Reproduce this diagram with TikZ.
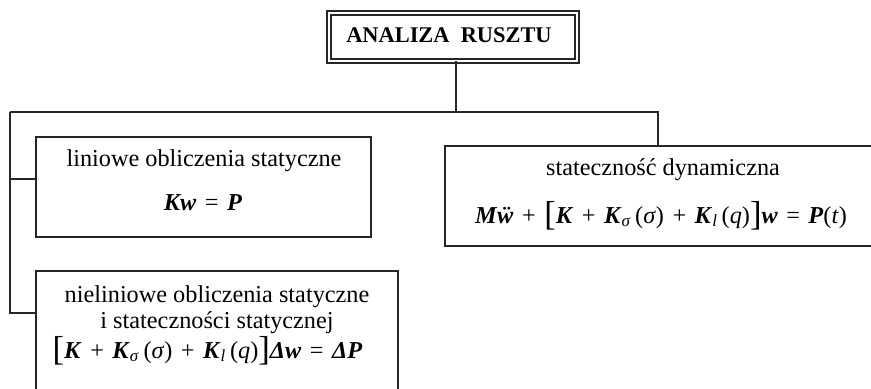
\documentclass[tikz,border=0pt]{standalone}
\usepackage{fontspec}
\setmainfont{Liberation Serif}
\newcommand{\vb}[1]{\textbf{\textit{#1}}}
\newcommand{\bigbr}[1]{\raisebox{-0.12em}{\fontsize{26}{26}\selectfont #1}}
\newcommand{\op}[1]{\hspace{0.35em}#1\hspace{0.35em}}
\tikzset{
    BOX/.style={draw=black!85, shape=rectangle, line width=1.4pt,
        inner sep=0pt, outer sep=0pt},
    TITLE_BOX/.style={BOX, double=white, double distance=1.6pt, line width=1.2pt},
    TEXT/.style={inner sep=0pt, anchor=base, font=\fontsize{18.2}{21}\selectfont},
    TITLE_TEXT/.style={TEXT, font=\fontsize{16.8}{20}\selectfont\bfseries},
    EDGE/.style={draw=black!85, line width=1.4pt}
}
\begin{document}
\begin{tikzpicture}[x=0.75pt, y=-0.75pt]
    \clip (0,0) rectangle (871,389);
    \useasboundingbox (0,0) rectangle (871,389);
    % boxes
    \node [TITLE_BOX, minimum width=186pt, minimum height=36pt] (1) at (453,37) {};
    \node [BOX, minimum width=251pt, minimum height=75pt] (2) at (203.5,187) {};
    \node [BOX, minimum width=327pt, minimum height=75pt] (3) at (663,196) {};
    \node [BOX, minimum width=271.5pt, minimum height=112pt] (4) at (217,345.5) {};
    % texts
    \node [TITLE_TEXT] (5) at (449,42) {ANALIZA\ \ RUSZTU};
    \node [TEXT] (6) at (204,166) {liniowe obliczenia statyczne};
    \node [TEXT] (7) at (203,210) {\vb{Kw}\op{=}\vb{P}};
    \node [TEXT] (8) at (663,175) {stateczność dynamiczna};
    \node [TEXT] (9) at (661,223) {\vb{M}\vb{\"w}\op{+}\bigbr{[}\vb{K}\op{+}\vb{K}\textsubscript{\textit{σ}}\,(\textit{σ})\op{+}\vb{K}\textsubscript{\textit{l}}\,(\textit{q})\bigbr{]}\vb{w}\op{=}\vb{P}(\textit{t})};
    \node [TEXT] (10) at (217,302) {nieliniowe obliczenia statyczne};
    \node [TEXT] (11) at (217,328) {i stateczności statycznej};
    \node [TEXT] (12) at (207.5,358) {\bigbr{[}\vb{K}\op{+}\vb{K}\textsubscript{\textit{σ}}\,(\textit{σ})\op{+}\vb{K}\textsubscript{\textit{l}}\,(\textit{q})\bigbr{]}\vb{Δw}\op{=}\vb{ΔP}};
    % connectors
    \coordinate (c1) at (10,112);
    \coordinate (c2) at (658,112);
    \coordinate (c3) at (10,313);
    \coordinate (c4) at (10,179);
    \coordinate (c5) at (456,112);
    \draw[EDGE] (1.south -| c5) -- (c5);
    \draw[EDGE] (c1) -- (c2) -- (c2 |- 3.north);
    \draw[EDGE] (c1) -- (c3) -- (c3 -| 4.west);
    \draw[EDGE] (c4) -- (c4 -| 2.west);
\end{tikzpicture}
\end{document}
